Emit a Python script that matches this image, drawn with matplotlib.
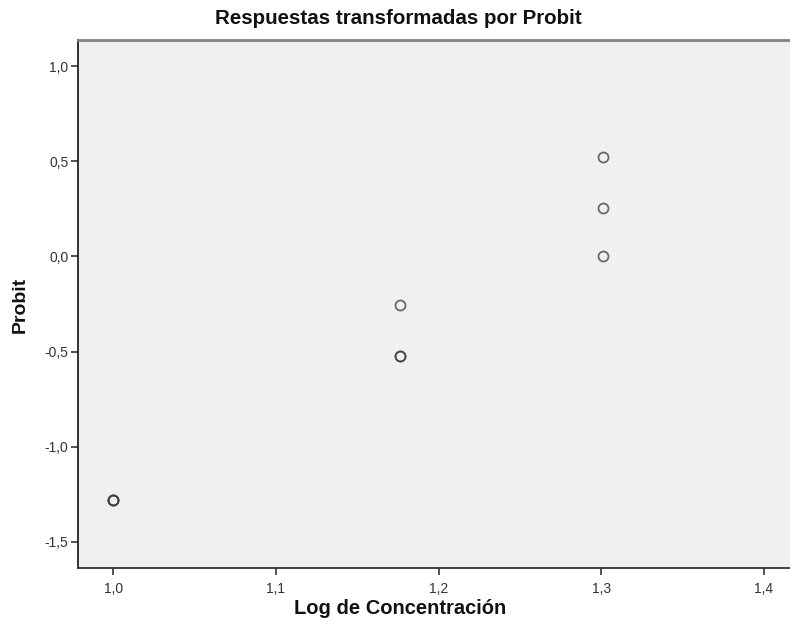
import matplotlib
matplotlib.use("Agg")
import matplotlib.pyplot as plt
from matplotlib.ticker import FuncFormatter, MultipleLocator

# Log concentration and probit-transformed responses (three replicates per dose)
log_conc = [1.0, 1.0, 1.0, 1.1761, 1.1761, 1.1761, 1.3010, 1.3010, 1.3010]
probit = [-1.2816, -1.2816, -1.2816, -0.5244, -0.5244, -0.2533, 0.0, 0.2533, 0.5244]

title = "Respuestas transformadas por Probit"
xlabel = "Log de Concentración"
ylabel = "Probit"

plt.rcParams["font.family"] = ["Liberation Sans", "DejaVu Sans"]

fig = plt.figure(figsize=(7.9, 6.28), dpi=100)
fig.patch.set_facecolor("white")
ax = fig.add_axes([78 / 790, 1 - 568 / 628, (790 - 78) / 790, (568 - 40) / 628])
ax.set_facecolor("#f0f0f0")

for xi, yi in zip(log_conc, probit):
    ax.plot(xi, yi, linestyle="none", marker="o", markersize=7.2,
            markerfacecolor="none", markeredgecolor="#3c3c3c",
            markeredgewidth=1.3, alpha=0.75, zorder=3)

ax.set_xlim(0.9783, 1.416)
ax.set_ylim(-1.637, 1.137)
ax.xaxis.set_major_locator(MultipleLocator(0.1))
ax.yaxis.set_major_locator(MultipleLocator(0.5))

comma = FuncFormatter(lambda v, p: f"{v:.1f}".replace(".", ",").replace("-0,0", "0,0"))
ax.xaxis.set_major_formatter(comma)
ax.yaxis.set_major_formatter(comma)

ax.tick_params(axis="both", direction="out", length=5, width=1.3,
               color="#444444", labelcolor="#333333", labelsize=10, pad=2)
ax.tick_params(axis="x", pad=5)

ax.spines["right"].set_visible(False)
ax.spines["left"].set_color("#222222")
ax.spines["left"].set_linewidth(1.3)
ax.spines["bottom"].set_color("#333333")
ax.spines["bottom"].set_linewidth(1.3)
ax.spines["top"].set_color("#808080")
ax.spines["top"].set_linewidth(2.0)

fig.text(398 / 790, 1 - 19 / 628, title, ha="center", va="center",
         fontsize=14.8, fontweight="bold", color="#111111")
fig.text(400 / 790, 1 - 609 / 628, xlabel, ha="center", va="center",
         fontsize=14.5, fontweight="bold", color="#111111")
fig.text(20 / 790, 1 - 305 / 628, ylabel, ha="center", va="center",
         rotation=90, fontsize=14, fontweight="bold", color="#111111")

fig.savefig("out.png", dpi=100)
